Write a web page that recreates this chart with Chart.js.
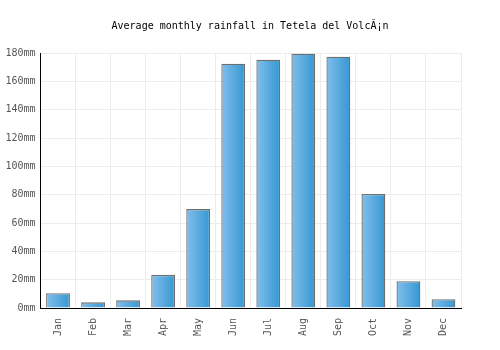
<!DOCTYPE html>
<html>
<head>
<meta charset="utf-8">
<title>Average monthly rainfall</title>
<script src="https://cdn.jsdelivr.net/npm/chart.js@4"></script>
<style>
  html, body { margin: 0; padding: 0; background: #fff; }
  #wrap { width: 500px; height: 350px; }
</style>
</head>
<body>
<div id="wrap"><canvas id="chartRain" width="500" height="350"></canvas></div>
<script>
// datos
const months = ["Jan", "Feb", "Mar", "Apr", "May", "Jun", "Jul", "Aug", "Sep", "Oct", "Nov", "Dec"];
const rainfall = [10.4, 4.0, 5.4, 23.4, 69.8, 172.5, 175.3, 179.5, 177.4, 80.5, 18.9, 6.2];
const yTicks = [0, 20, 40, 60, 80, 100, 120, 140, 160, 180];
const titleText = "Average monthly rainfall in Tetela del VolcÃ¡n";

const mono = "'DejaVu Sans Mono', monospace";

// gradiente horizontal por barra
function barGradient(ctx) {
  const chart = ctx.chart;
  if (!chart.chartArea || !chart.scales.x) return "#5aa9e0";
  const cx = chart.scales.x.getPixelForValue(ctx.dataIndex);
  const half = 12;
  const g = chart.ctx.createLinearGradient(cx - half, 0, cx + half, 0);
  g.addColorStop(0, "#82bfec");
  g.addColorStop(1, "#3597d1");
  return g;
}

// título centrado en todo el canvas (el plugin de título se centra en el área con padding)
const centeredTitle = {
  id: "centeredTitle",
  afterDraw(chart) {
    const c = chart.ctx;
    c.save();
    c.font = "10px " + mono;
    c.fillStyle = "#000";
    c.textAlign = "center";
    c.textBaseline = "middle";
    c.fillText(titleText, chart.width / 2, 26);
    c.restore();
  },
};

const chart = new Chart(document.getElementById("chartRain").getContext("2d"), {
  type: "bar",
  data: {
    labels: months,
    datasets: [{
      label: "Rainfall",
      data: rainfall,
      backgroundColor: barGradient,
      borderColor: "#6e6e6e",
      borderWidth: 1.3,
      borderSkipped: "bottom",
      categoryPercentage: 0.68,
      barPercentage: 1.0,
    }],
  },
  options: {
    responsive: false,
    animation: false,
    devicePixelRatio: 1,
    layout: { padding: { left: 0, right: 39, top: 53, bottom: 0 } },
    plugins: {
      legend: { display: false },
      tooltip: { enabled: false },
      title: { display: false },
    },
    scales: {
      x: {
        grid: { color: "#ececec", offset: true, drawTicks: false },
        border: { color: "#000", width: 1 },
        ticks: {
          color: "#555",
          font: { family: mono, size: 10 },
          maxRotation: 90,
          minRotation: 90,
          padding: 10,
        },
        afterFit: (s) => { s.height = 42; },
      },
      y: {
        min: 0,
        max: 180,
        grid: { color: "#ececec", drawTicks: false },
        border: { color: "#000", width: 1 },
        afterBuildTicks: (s) => { s.ticks = yTicks.map((v) => ({ value: v })); },
        ticks: {
          color: "#555",
          font: { family: mono, size: 10 },
          padding: 5,
          callback: (v) => v + "mm",
        },
        afterFit: (s) => { s.width = 40.5; },
      },
    },
  },
  plugins: [centeredTitle],
});
</script>
</body>
</html>
